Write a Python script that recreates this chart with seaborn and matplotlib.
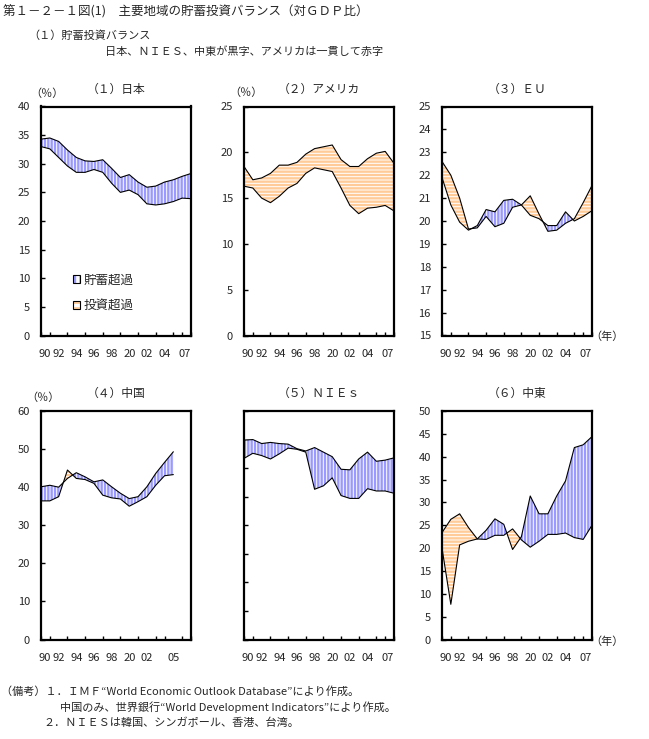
# 主要地域の貯蓄投資バランス（対GDP比）
import numpy as np
import pandas as pd
import seaborn as sns
import matplotlib.pyplot as plt
from matplotlib.patches import Patch
from matplotlib.legend_handler import HandlerTuple

# 年
years = list(range(1990, 2008))
china_years = list(range(1990, 2006))

# (1) 日本
japan_saving = [34.3, 34.5, 33.9, 32.4, 31.1, 30.5, 30.4, 30.7, 29.2, 27.6,
                28.1, 26.8, 25.9, 26.1, 26.8, 27.2, 27.8, 28.3]
japan_invest = [33.0, 32.6, 31.1, 29.6, 28.5, 28.5, 29.0, 28.5, 26.6, 25.0,
                25.4, 24.6, 23.0, 22.8, 23.0, 23.4, 24.0, 23.9]

# (2) アメリカ
us_saving = [16.3, 16.1, 15.0, 14.5, 15.2, 16.1, 16.6, 17.7, 18.3, 18.1,
             17.9, 16.1, 14.2, 13.3, 13.9, 14.0, 14.2, 13.6]
us_invest = [18.45, 17.0, 17.2, 17.7, 18.6, 18.6, 18.9, 19.8, 20.4, 20.6,
             20.8, 19.2, 18.45, 18.45, 19.3, 19.9, 20.1, 18.8]

# (3) EU
eu_saving = [21.9, 20.7, 19.95, 19.6, 19.8, 20.5, 20.4, 20.9, 20.95, 20.7,
             20.25, 20.1, 19.8, 19.8, 20.4, 20.0, 20.2, 20.45]
eu_invest = [22.6, 22.0, 21.0, 19.65, 19.7, 20.2, 19.75, 19.9, 20.6, 20.7,
             21.1, 20.3, 19.55, 19.6, 19.9, 20.1, 20.8, 21.55]

# (4) 中国
china_saving = [40.1, 40.5, 40.0, 42.3, 43.8, 42.7, 41.4, 41.9, 40.1, 38.4,
                37.0, 37.5, 40.1, 43.6, 46.5, 49.3]
china_invest = [36.4, 36.4, 37.5, 44.5, 42.3, 42.0, 41.0, 37.9, 37.2, 36.9,
                35.0, 36.2, 37.5, 40.5, 43.0, 43.3]

# (5) NIEs
nies_saving = [34.9, 35.0, 34.3, 34.5, 34.3, 34.2, 33.4, 33.0, 33.6, 32.8,
               32.0, 29.8, 29.7, 31.6, 32.8, 31.2, 31.4, 31.8]
nies_invest = [31.7, 32.6, 32.2, 31.6, 32.5, 33.5, 33.3, 32.8, 26.3, 26.9,
               28.3, 25.2, 24.7, 24.7, 26.4, 26.0, 26.0, 25.6]

# (6) 中東
me_saving = [20.0, 7.7, 20.7, 21.5, 22.0, 23.9, 26.4, 25.2, 19.7, 22.5,
             31.4, 27.5, 27.5, 31.4, 34.7, 42.0, 42.6, 44.4]
me_invest = [23.4, 26.3, 27.5, 24.5, 22.0, 21.9, 22.8, 22.8, 24.2, 21.8,
             20.2, 21.5, 23.0, 23.0, 23.3, 22.3, 21.9, 25.0]

tick_labels = ["90", "92", "94", "96", "98", "20", "02", "04", "07"]
china_tick_labels = ["90", "92", "94", "96", "98", "20", "02", "05"]

BLUE = "#9999ff"
ORANGE = "#ffcc99"

sns.set_style("white")
plt.rcParams["font.family"] = ["Noto Sans CJK JP", "DejaVu Sans"]
plt.rcParams["hatch.linewidth"] = 1.7

W, H = 649, 739
fig = plt.figure(figsize=(W / 100, H / 100), dpi=100)


def fx(x):
    return x / W


def fy(y):
    return 1 - y / H


def panel(left, top, bottom, title, yrs, saving, invest, ymin, ymax,
          labels, label_pos):
    ax = fig.add_axes([fx(left), fy(bottom), 150 / W, (bottom - top) / H])
    df = pd.DataFrame({"year": yrs, "saving": saving, "invest": invest})
    s = np.array(saving)
    i = np.array(invest)
    # 貯蓄超過 / 投資超過
    ax.fill_between(df["year"], s, i, where=s >= i, interpolate=True,
                    facecolor="white", edgecolor=BLUE, hatch="|||||", linewidth=0)
    ax.fill_between(df["year"], s, i, where=s <= i, interpolate=True,
                    facecolor="white", edgecolor=ORANGE, hatch="-----", linewidth=0)
    sns.lineplot(data=df, x="year", y="saving", color="black", linewidth=0.8, ax=ax)
    sns.lineplot(data=df, x="year", y="invest", color="black", linewidth=0.8, ax=ax)

    ax.set_xlim(1990, 2007)
    ax.set_ylim(ymin, ymax)
    ax.set_xlabel("")
    ax.set_ylabel("")
    ax.set_xticks(label_pos)
    ax.set_xticklabels(labels, fontsize=8)
    ax.set_xticks(range(1990, 2008), minor=True)
    ax.tick_params(axis="x", which="major", length=0, pad=10)
    ax.tick_params(axis="x", which="minor", direction="in", length=3, width=1,
                   color="black", bottom=True)
    for sp in ax.spines.values():
        sp.set_linewidth(1.6)
        sp.set_color("black")
    ax.set_title(title, fontsize=8.5, pad=10)
    return ax


top_pos = [1990.4, 1992, 1994, 1996, 1998, 2000, 2002, 2004, 2006.3]
china_pos = [1990.4, 1992, 1994, 1996, 1998, 2000, 2002, 2005]

ax1 = panel(41, 106.5, 335.5, "（１）日本", years, japan_saving, japan_invest,
            0, 40, tick_labels, top_pos)
ax1.set_yticks(np.arange(0, 41, 5))
ax2 = panel(244, 106.5, 335.5, "（２）アメリカ", years, us_saving, us_invest,
            0, 25, tick_labels, top_pos)
ax2.set_yticks(np.arange(0, 26, 5))
ax3 = panel(442, 106.5, 335.5, "（３）ＥＵ", years, eu_saving, eu_invest,
            15, 25, tick_labels, top_pos)
ax3.set_yticks(np.arange(15, 26, 1))
ax4 = panel(41, 411, 639.5, "（４）中国", china_years, china_saving, china_invest,
            0, 60, china_tick_labels, china_pos)
ax4.set_yticks(np.arange(0, 61, 10))
ax5 = panel(244, 411, 639.5, "（５）ＮＩＥｓ", years, nies_saving, nies_invest,
            0, 40, tick_labels, top_pos)
ax5.set_yticks(np.arange(0, 41, 5))
ax5.set_yticklabels([])
ax6 = panel(442, 411, 639.5, "（６）中東", years, me_saving, me_invest,
            0, 50, tick_labels, top_pos)
ax6.set_yticks(np.arange(0, 51, 5))

for ax in [ax1, ax2, ax3, ax4, ax5, ax6]:
    ax.tick_params(axis="y", which="major", direction="in", length=3, width=1,
                   color="black", left=True, pad=8, labelsize=8)

# 凡例
h_save = (Patch(facecolor="white", edgecolor=BLUE, hatch="|||", linewidth=0),
          Patch(facecolor="none", edgecolor="black", linewidth=0.8))
h_inv = (Patch(facecolor="white", edgecolor=ORANGE, hatch="---", linewidth=0),
         Patch(facecolor="none", edgecolor="black", linewidth=0.8))
ax1.legend([h_save, h_inv], ["貯蓄超過", "投資超過"],
           handler_map={tuple: HandlerTuple(ndivide=1)},
           loc="upper left", bbox_to_anchor=(0.21, 0.27), frameon=False,
           fontsize=9, handlelength=0.6, handleheight=0.6, handletextpad=0.3,
           labelspacing=1.0, borderpad=0, borderaxespad=0)

# 単位
for x, y in [(47, 94), (246, 93), (43, 398)]:
    fig.text(fx(x), fy(y), "（％）", fontsize=8, ha="center", va="center")
for y in [337, 642]:
    fig.text(fx(607), fy(y), "（年）", fontsize=8, ha="center", va="center")

# タイトル・注記
fig.text(fx(3), fy(12), "第１－２－１図(1)　主要地域の貯蓄投資バランス（対ＧＤＰ比）",
         fontsize=9, ha="left", va="center")
fig.text(fx(28), fy(36), "（１）貯蓄投資バランス", fontsize=8, ha="left", va="center")
fig.text(fx(105), fy(52), "日本、ＮＩＥＳ、中東が黒字、アメリカは一貫して赤字",
         fontsize=8, ha="left", va="center")
fig.text(fx(1), fy(691), "（備考）１．ＩＭＦ“World Economic Outlook Database”により作成。",
         fontsize=8, ha="left", va="center")
fig.text(fx(60), fy(707), "中国のみ、世界銀行“World Development Indicators”により作成。",
         fontsize=8, ha="left", va="center")
fig.text(fx(43), fy(723), "２．ＮＩＥＳは韓国、シンガポール、香港、台湾。",
         fontsize=8, ha="left", va="center")

fig.savefig("out.png", dpi=100)
